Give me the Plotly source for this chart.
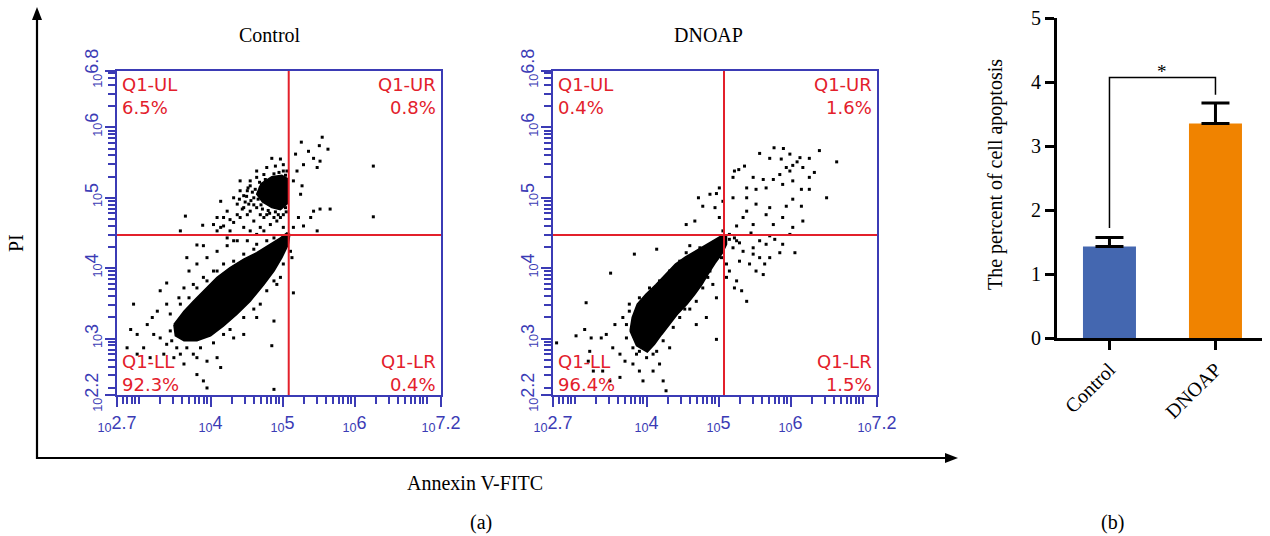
import math
import plotly.graph_objects as go

# ---------------- data (log10 fluorescence units) ----------------
x_range = [2.7, 7.2]          # Annexin V-FITC, log10
y_range = [2.2, 6.8]          # PI, log10
gate_x = [5.085, 5.075]       # quadrant gate (Control, DNOAP)
gate_y = [4.47, 4.47]

panel_names = ["Control", "DNOAP"]
quad_labels = ["Q1-UL", "Q1-UR", "Q1-LL", "Q1-LR"]
ctrl_quad_pct = ["6.5%", "0.8%", "92.3%", "0.4%"]
dno_quad_pct = ["0.4%", "1.6%", "96.4%", "1.5%"]

# outline of the dense event cloud (Control)
ctrl_cloud = [(3.49, 3.20), (3.63, 3.39), (3.76, 3.53), (3.90, 3.68), (4.09, 3.87), (4.27, 4.01),
              (4.46, 4.13), (4.64, 4.22), (4.83, 4.34), (4.97, 4.43), (5.06, 4.50), (5.10, 4.48),
              (5.08, 4.34), (4.99, 4.15), (4.88, 3.96), (4.74, 3.77), (4.55, 3.53), (4.37, 3.35),
              (4.18, 3.18), (4.00, 3.04), (3.81, 2.97), (3.63, 2.97), (3.51, 3.04)]
# dense core of the upper (PI+) cluster (Control)
ctrl_core = [(4.70, 5.20), (4.85, 5.30), (4.99, 5.32), (5.07, 5.27), (5.07, 4.92), (4.97, 4.83),
             (4.85, 4.86), (4.72, 4.94), (4.64, 5.05)]
# individual sparse events (Control)
ctrl_pts = [(5.55, 5.86), (5.26, 5.79), (5.51, 5.74), (5.63, 5.69), (5.36, 5.66), (5.18, 5.62),
            (5.43, 5.56), (5.52, 5.52), (5.29, 5.47), (5.20, 5.38), (5.48, 5.43), (6.26, 5.45),
            (6.26, 4.73), (5.66, 4.84), (5.52, 4.84), (5.43, 4.81), (5.27, 5.17), (5.15, 5.24),
            (5.25, 5.05), (5.39, 4.72), (5.22, 4.72), (5.29, 4.60), (5.48, 4.53), (5.15, 4.58),
            (4.85, 5.56), (4.97, 5.55), (4.90, 5.45), (5.01, 5.38), (4.74, 5.33), (4.64, 5.29),
            (4.41, 5.24), (4.55, 5.17), (4.69, 5.14), (4.46, 5.03), (4.32, 5.00), (4.53, 4.91),
            (4.64, 4.86), (4.14, 4.95), (4.23, 4.81), (4.37, 4.76), (4.09, 4.72), (4.04, 4.62),
            (4.18, 4.60), (4.32, 4.65), (4.46, 4.58), (4.60, 4.67), (4.74, 4.72), (4.92, 4.67),
            (5.01, 4.58), (4.27, 4.53), (3.65, 4.74), (3.89, 4.61), (3.58, 4.53),
            (4.18, 4.72), (4.27, 4.69), (4.41, 4.72), (4.51, 4.76), (4.55, 4.81), (4.69, 4.76),
            (4.78, 4.76), (4.88, 4.72), (4.97, 4.72), (5.01, 4.76), (4.83, 4.62), (4.69, 4.58),
            (4.55, 4.53), (4.64, 4.48), (4.74, 4.53), (4.37, 4.91), (4.46, 4.86), (4.41, 5.10),
            (4.51, 5.10), (4.55, 5.24), (4.64, 5.38), (4.78, 5.43), (5.01, 5.47), (5.06, 5.38),
            (4.14, 4.58), (4.23, 4.43), (4.32, 4.39), (4.09, 4.53),
            (4.62, 5.12), (4.66, 4.98), (4.70, 4.90), (4.80, 4.82), (4.90, 4.80), (5.04, 4.86),
            (4.76, 5.26), (4.88, 5.34), (4.95, 5.36), (5.04, 5.32), (4.60, 5.00), (4.68, 5.22),
            (4.50, 5.02), (4.56, 4.96), (4.58, 5.08), (4.48, 4.94), (4.60, 4.90), (4.52, 5.14),
            (4.72, 4.84), (4.82, 4.78), (4.94, 4.76), (5.05, 4.80), (4.40, 4.98), (4.44, 4.84),
            (3.81, 4.33), (3.90, 4.32), (3.67, 4.15), (3.81, 4.06), (3.95, 4.15), (4.09, 4.24),
            (4.23, 4.32), (4.37, 4.39), (4.51, 4.39), (4.64, 4.34), (4.04, 3.96), (3.90, 3.87),
            (3.70, 3.96), (3.76, 3.77), (3.63, 3.72), (3.39, 3.79), (3.30, 3.68), (3.56, 3.58),
            (3.39, 3.49), (3.26, 3.39), (3.19, 3.30), (3.12, 3.20), (2.93, 3.49), (2.89, 3.13),
            (2.98, 3.06), (3.21, 3.06), (3.30, 3.01), (3.39, 2.92), (3.07, 2.87), (2.84, 2.87),
            (2.98, 2.78), (3.16, 2.73), (3.35, 2.78), (3.49, 2.73), (3.58, 2.78), (3.63, 2.64),
            (3.81, 2.73), (3.95, 2.68), (4.09, 2.73), (4.14, 2.59), (3.90, 2.40), (3.81, 2.49),
            (3.95, 2.30), (4.88, 3.25), (4.85, 2.90), (5.15, 3.65), (4.88, 2.28), (3.76, 2.78),
            (4.32, 3.01), (4.46, 3.06), (4.64, 3.30), (4.69, 3.49), (4.92, 3.77), (4.97, 3.87),
            (3.44, 3.11), (3.46, 2.97), (3.53, 2.87), (3.67, 2.87), (3.86, 2.87), (4.04, 2.94),
            (4.18, 3.06), (4.27, 3.13), (4.46, 3.30), (4.60, 3.42), (4.78, 3.68), (4.88, 3.82),
            (5.01, 4.06), (5.11, 4.24), (5.13, 4.15), (3.44, 3.35), (3.58, 3.49), (3.70, 3.58),
            (3.81, 3.72), (3.95, 3.82), (4.09, 3.96), (4.18, 4.06), (4.32, 4.10), (4.46, 4.20),
            (4.60, 4.27), (4.78, 4.39), (4.88, 4.43)]

# outline of the dense event cloud (DNOAP)
dno_cloud = [(3.77, 3.11), (3.80, 3.30), (3.87, 3.49), (3.99, 3.63), (4.13, 3.77), (4.26, 3.91),
             (4.40, 4.06), (4.54, 4.16), (4.69, 4.25), (4.83, 4.33), (4.95, 4.40), (5.04, 4.46),
             (5.11, 4.46), (5.11, 4.34), (5.05, 4.21), (4.95, 4.07), (4.85, 3.91), (4.77, 3.77),
             (4.67, 3.63), (4.56, 3.49), (4.43, 3.35), (4.31, 3.20), (4.21, 3.06), (4.11, 2.92),
             (4.01, 2.81), (3.86, 2.90)]
# individual sparse events (DNOAP)
dno_pts = [(5.77, 5.71), (5.90, 5.70), (6.40, 5.67), (5.57, 5.63), (5.99, 5.62), (5.71, 5.56),
           (5.87, 5.55), (6.13, 5.57), (6.26, 5.56), (6.09, 5.51), (6.64, 5.51), (5.36, 5.45),
           (5.28, 5.40), (5.94, 5.43), (6.03, 5.46), (6.17, 5.43), (5.22, 5.38), (5.48, 5.29),
           (5.62, 5.26), (5.76, 5.26), (5.85, 5.33), (5.99, 5.38), (6.33, 5.36), (5.20, 5.29),
           (5.39, 5.14), (5.52, 5.12), (5.66, 5.14), (5.89, 5.19), (6.03, 5.24), (6.26, 5.29),
           (6.15, 5.12), (6.26, 5.12), (5.01, 5.14), (4.88, 5.05), (4.97, 5.06), (4.72, 5.00),
           (4.78, 4.88), (4.95, 4.86), (5.06, 4.95), (5.20, 5.00), (5.39, 5.00), (5.52, 4.91),
           (5.71, 4.86), (5.94, 4.88), (6.03, 4.98), (6.15, 4.88), (6.50, 5.00), (5.01, 4.72),
           (5.39, 4.81), (5.34, 4.72), (5.48, 4.62), (5.66, 4.76), (5.76, 4.62), (5.89, 4.72),
           (6.03, 4.58), (6.17, 4.67), (4.55, 4.62), (4.67, 4.67), (5.25, 4.60), (5.45, 4.50),
           (5.71, 4.46), (5.99, 4.48),
           (5.22, 4.43), (5.29, 4.36), (5.20, 4.29), (5.34, 4.24), (5.48, 4.29), (5.57, 4.39),
           (5.66, 4.34), (5.78, 4.41), (5.89, 4.34), (5.48, 4.20), (5.57, 4.15), (5.71, 4.15),
           (5.85, 4.22), (6.06, 4.22), (5.29, 4.10), (5.43, 4.06), (5.52, 3.96), (5.64, 4.06),
           (5.62, 3.91), (5.15, 3.96), (5.25, 3.82), (5.32, 3.68), (5.39, 3.53), (5.22, 3.72),
           (5.11, 4.06), (5.04, 4.15), (5.11, 3.87), (5.15, 4.41), (5.25, 4.39), (5.15, 4.48),
           (5.06, 4.53),
           (4.60, 4.32), (4.74, 4.29), (3.83, 4.20), (3.50, 3.93), (4.14, 4.27), (4.85, 3.87),
           (4.92, 3.77), (4.97, 3.58), (4.83, 3.30), (4.69, 3.20), (4.97, 2.99), (4.53, 3.42),
           (3.76, 3.39), (3.67, 3.30), (3.16, 3.51), (3.14, 3.13), (3.02, 3.04), (3.23, 3.01),
           (3.37, 3.01), (3.44, 3.06), (3.56, 3.20), (3.53, 2.87), (3.63, 2.78), (3.70, 2.68),
           (3.81, 2.64), (3.90, 2.54), (3.95, 2.40), (4.09, 2.54), (4.18, 2.64), (4.23, 2.40),
           (4.27, 2.26), (3.86, 2.78), (3.21, 2.82), (3.26, 2.54), (3.19, 2.68), (3.39, 2.54),
           (3.49, 2.40), (3.63, 2.45), (2.75, 2.94), (4.09, 2.78), (4.32, 2.87), (3.72, 3.01),
           (3.72, 3.20), (3.76, 3.49), (3.90, 3.58), (4.04, 3.72), (4.18, 3.82), (4.32, 3.96),
           (4.46, 4.10), (4.55, 4.22), (4.88, 3.96), (4.78, 3.72), (4.69, 3.53), (4.60, 3.42),
           (4.46, 3.30), (4.37, 3.16), (4.23, 2.97), (4.14, 2.82), (4.00, 2.73), (3.90, 2.82),
           (3.81, 2.87)]

# bar chart (b)
bar_categories = ["Control", "DNOAP"]
bar_means = [1.43, 3.35]
bar_errors = [0.14, 0.32]
bar_colors = ["#4467B0", "#F08300"]
sig_bracket_y = 4.07
sig_leg_ends = [1.72, 3.80]
sig_label = "*"

# ---------------- figure ----------------
W, H = 1270, 536
BLUE = "#3B3BB5"
RED = "#E3202B"
SERIF = "Liberation Serif"

fig = go.Figure()

def px_x(p):
    return p / W

def px_y(p):
    return 1 - p / H

panel_xdom = [[px_x(117), px_x(441)], [px_x(553), px_x(877)]]
panel_ydom = [px_y(395), px_y(71)]

clouds = [[ctrl_cloud, ctrl_core], [dno_cloud]]
points = [ctrl_pts, dno_pts]
pcts = [ctrl_quad_pct, dno_quad_pct]

# ticks for log axes
def minor_vals(lo, hi, labelled):
    vals = []
    for n in range(2, 8):
        for k in range(1, 10):
            v = n + math.log10(k)
            if lo < v < hi and all(abs(v - m) > 1e-6 for m in labelled):
                vals.append(v)
    return vals

x_major = [2.7, 4, 5, 6, 7.2]
x_major_txt = ["<sub>10</sub>2.7", "<sub>10</sub>4", "<sub>10</sub>5", "<sub>10</sub>6", "<sub>10</sub>7.2"]
y_major = [2.2, 3, 4, 5, 6, 6.8]
y_major_txt = ["<sub>10</sub>2.2", "<sub>10</sub>3", "<sub>10</sub>4", "<sub>10</sub>5", "<sub>10</sub>6", "<sub>10</sub>6.8"]

for i in range(2):
    xa = "x" if i == 0 else "x2"
    ya = "y" if i == 0 else "y2"
    pts = points[i]
    fig.add_trace(go.Scatter(x=[p[0] for p in pts], y=[p[1] for p in pts], mode="markers",
                             marker=dict(symbol="square", size=3, color="black", line=dict(width=0)),
                             xaxis=xa, yaxis=ya, showlegend=False, hoverinfo="skip"))
    for j, poly in enumerate(clouds[i]):
        fig.add_trace(go.Scatter(x=[p[0] for p in poly] + [poly[0][0]],
                                 y=[p[1] for p in poly] + [poly[0][1]],
                                 mode="lines", fill="toself", fillcolor="black",
                                 line=dict(color="black", width=1.5),
                                 xaxis=xa, yaxis=ya, showlegend=False, hoverinfo="skip"))
    # quadrant gates
    fig.add_shape(type="line", xref=xa, yref=ya, x0=gate_x[i], x1=gate_x[i], y0=y_range[0], y1=y_range[1],
                  line=dict(color=RED, width=2))
    fig.add_shape(type="line", xref=xa, yref=ya, x0=x_range[0], x1=x_range[1], y0=gate_y[i], y1=gate_y[i],
                  line=dict(color=RED, width=2))
    # quadrant labels (name + percentage)
    xd = xa + " domain"
    yd = ya + " domain"
    qfont = dict(family="DejaVu Sans", size=18, color=RED)
    spots = [(0.010, "left", 0.924), (0.990, "right", 0.924),
             (0.010, "left", 0.067), (0.990, "right", 0.067)]
    for q in range(4):
        xx, anc, yy = spots[q]
        fig.add_annotation(x=xx, y=yy, xref=xd, yref=yd, text=quad_labels[q] + "<br>" + pcts[i][q],
                           showarrow=False, xanchor=anc, yanchor="middle", align=anc, font=qfont)

axis_common = dict(showgrid=False, zeroline=False, showline=True, linecolor=BLUE, linewidth=2,
                   mirror=True, ticks="outside", tickcolor=BLUE, tickwidth=1.5, ticklen=10,
                   automargin=False,
                   tickfont=dict(family="Liberation Sans", size=18, color=BLUE))

for i in range(2):
    sfx = "" if i == 0 else "2"
    fig.update_layout(**{
        "xaxis" + sfx: dict(axis_common, domain=panel_xdom[i], range=x_range, tickmode="array",
                            tickvals=x_major, ticktext=x_major_txt, anchor="y" + sfx,
                            minor=dict(tickvals=minor_vals(x_range[0], x_range[1], x_major),
                                       ticks="outside", ticklen=7, tickcolor=BLUE, tickwidth=1.5)),
        "yaxis" + sfx: dict(axis_common, domain=panel_ydom, range=y_range, tickmode="array",
                            tickvals=y_major, ticktext=y_major_txt, tickangle=-90, anchor="x" + sfx,
                            minor=dict(tickvals=minor_vals(y_range[0], y_range[1], y_major),
                                       ticks="outside", ticklen=7, tickcolor=BLUE, tickwidth=1.5)),
    })

# ---------------- bar chart ----------------
bar_x = list(range(len(bar_categories)))
fig.add_trace(go.Bar(x=bar_x, y=bar_means, width=0.5, marker=dict(color=bar_colors, line=dict(width=0)),
                     error_y=dict(type="data", array=bar_errors, arrayminus=[0] * len(bar_errors),
                                  symmetric=False, color="black", thickness=3, width=14),
                     xaxis="x3", yaxis="y3", showlegend=False, hoverinfo="skip"))
fig.add_trace(go.Scatter(x=[bar_x[0], bar_x[0], bar_x[1], bar_x[1]],
                         y=[sig_leg_ends[0], sig_bracket_y, sig_bracket_y, sig_leg_ends[1]],
                         mode="lines", line=dict(color="black", width=1.5),
                         xaxis="x3", yaxis="y3", showlegend=False, hoverinfo="skip"))
fig.add_annotation(x=(bar_x[0] + bar_x[1]) / 2, y=sig_bracket_y + 0.1, xref="x3", yref="y3",
                   text=sig_label, showarrow=False, xanchor="center", yanchor="middle",
                   font=dict(family=SERIF, size=19, color="black"))

fig.update_layout(
    xaxis3=dict(domain=[px_x(1057), px_x(1262)], range=[-0.495, 1.439], anchor="y3",
                tickmode="array", tickvals=bar_x, ticktext=bar_categories, tickangle=-45,
                showline=True, linecolor="black", linewidth=3, ticks="outside", ticklen=9,
                tickwidth=3, tickcolor="black", showgrid=False, zeroline=False, automargin=False,
                tickfont=dict(family=SERIF, size=20, color="black")),
    yaxis3=dict(domain=[px_y(338), px_y(18)], range=[0, 5], anchor="x3",
                tickmode="array", tickvals=[0, 1, 2, 3, 4, 5],
                showline=True, linecolor="black", linewidth=3, ticks="outside", ticklen=9,
                tickwidth=3, tickcolor="black", showgrid=False, zeroline=False, automargin=False,
                tickfont=dict(family=SERIF, size=20, color="black")),
)

# ---------------- texts & big arrows ----------------
tfont = dict(family=SERIF, size=20, color="black")

def label(x, y, text, angle=0):
    fig.add_annotation(x=px_x(x), y=px_y(y), xref="paper", yref="paper", text=text, showarrow=False,
                       xanchor="center", yanchor="middle", textangle=angle, font=tfont)

label(270, 35.5, panel_names[0])
label(708, 35.5, panel_names[1])
label(16, 243, "PI", -90)
label(475, 483, "Annexin V-FITC")
label(481, 522, "(a)")
label(1112, 522, "(b)")
label(995, 175, "The percent of cell apoptosis", -90)

# big figure axes (lines + arrow heads)
fig.add_shape(type="line", xref="paper", yref="paper", x0=px_x(37), x1=px_x(37), y0=px_y(459), y1=px_y(16),
              line=dict(color="black", width=2.2))
fig.add_shape(type="line", xref="paper", yref="paper", x0=px_x(36), x1=px_x(950), y0=px_y(458), y1=px_y(458),
              line=dict(color="black", width=2.2))
fig.add_shape(type="path", xref="paper", yref="paper", fillcolor="black", line=dict(width=0),
              path="M {a},{b} L {c},{d} L {e},{f} Z".format(a=px_x(37), b=px_y(7), c=px_x(32), d=px_y(20),
                                                           e=px_x(42), f=px_y(20)))
fig.add_shape(type="path", xref="paper", yref="paper", fillcolor="black", line=dict(width=0),
              path="M {a},{b} L {c},{d} L {e},{f} Z".format(a=px_x(958), b=px_y(458), c=px_x(945), d=px_y(453),
                                                           e=px_x(945), f=px_y(463)))

fig.update_layout(width=W, height=H, margin=dict(l=0, r=0, t=0, b=0, autoexpand=False),
                  paper_bgcolor="white", plot_bgcolor="white", showlegend=False)

fig.write_html("out.html", config={"displayModeBar": False},
               post_script="document.body.style.margin='0px';")
